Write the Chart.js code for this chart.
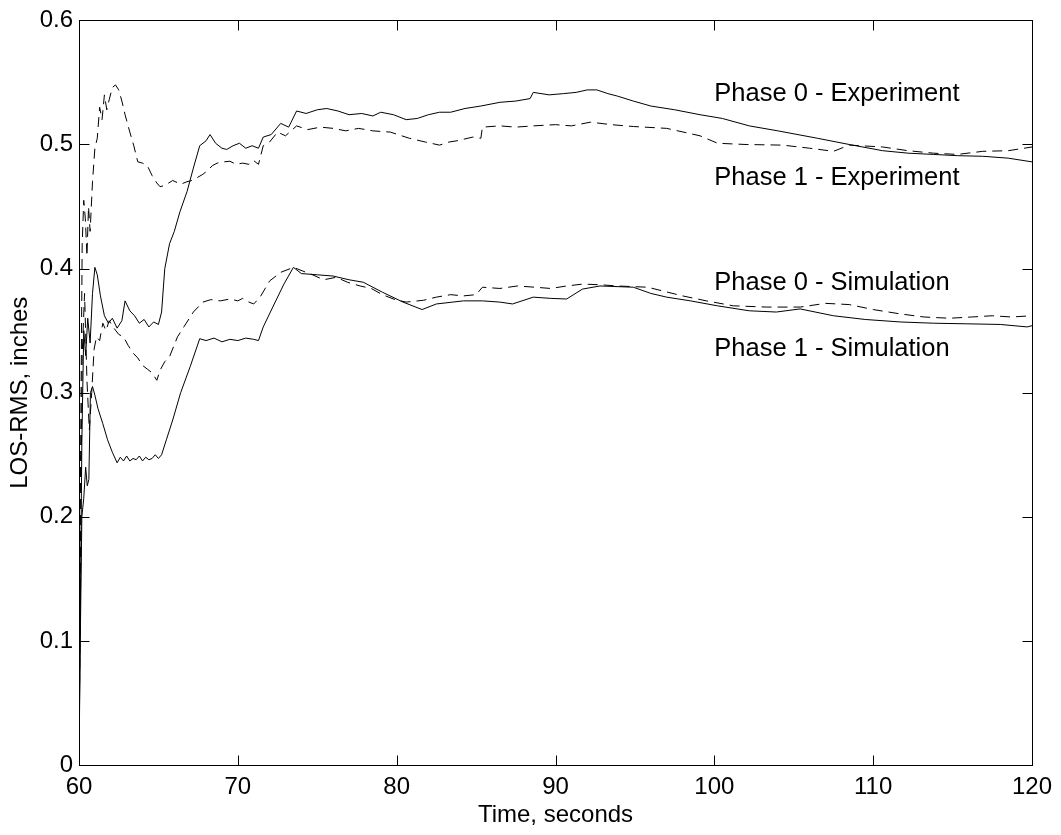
<!DOCTYPE html>
<html>
<head>
<meta charset="utf-8">
<script src="https://cdn.jsdelivr.net/npm/chart.js@4/dist/chart.umd.min.js"></script>
<style>
  html, body { margin: 0; padding: 0; background: #fff; }
  #c { display: block; }
</style>
</head>
<body>
<canvas id="c" width="1061" height="835"></canvas>
<script>
// ---- Data (time in seconds, LOS-RMS in inches) ----
const xTicks = [60, 70, 80, 90, 100, 110, 120];
const yTicks = [0, 0.1, 0.2, 0.3, 0.4, 0.5, 0.6];

// Phase 0 - Experiment (solid)
const phase0Experiment = [
  [60,0],[60.08,0.12],[60.18,0.26],[60.3,0.35],[60.42,0.33],[60.55,0.36],[60.7,0.34],[60.85,0.38],[61.0,0.401],[61.15,0.395],
  [61.35,0.378],[61.6,0.362],[61.85,0.356],[62.1,0.36],[62.4,0.352],[62.7,0.358],[62.9,0.374],[63.2,0.366],[63.5,0.362],[63.8,0.356],
  [64.1,0.359],[64.4,0.353],[64.7,0.357],[65.0,0.355],[65.2,0.365],[65.4,0.40],[65.7,0.42],[66.0,0.43],[66.36,0.446],[66.8,0.462],
  [67.2,0.481],[67.6,0.499],[68.0,0.503],[68.25,0.508],[68.6,0.501],[69.0,0.497],[69.3,0.496],[69.7,0.499],[70.1,0.501],[70.5,0.497],
  [70.9,0.499],[71.3,0.497],[71.6,0.506],[72.1,0.508],[72.7,0.517],[73.2,0.514],[73.7,0.527],[74.3,0.525],[75.0,0.528],[75.6,0.529],
  [76.3,0.527],[77.0,0.524],[77.8,0.525],[78.5,0.523],[79.0,0.526],[79.8,0.524],[80.6,0.520],[81.3,0.521],[82.0,0.524],[82.7,0.526],
  [83.4,0.526],[84.3,0.529],[85.3,0.531],[86.5,0.534],[87.5,0.535],[88.4,0.537],[88.6,0.542],[89.6,0.540],[90.5,0.541],[91.3,0.542],
  [92.0,0.544],[92.6,0.544],[93.3,0.541],[93.9,0.539],[94.9,0.535],[96.0,0.531],[97.5,0.528],[99.1,0.524],[100.5,0.521],[102.2,0.515],
  [104.0,0.511],[106.5,0.505],[108.5,0.500],[110.6,0.495],[112.2,0.493],[113.8,0.492],[115.3,0.491],[116.9,0.4905],[118.5,0.489],[120,0.486]
];

// Phase 1 - Experiment (dashed)
const phase1Experiment = [
  [60,0],[60.1,0.25],[60.2,0.42],[60.3,0.455],[60.4,0.44],[60.5,0.41],[60.6,0.45],[60.7,0.43],[60.85,0.47],[61.0,0.497],
  [61.15,0.505],[61.3,0.53],[61.45,0.52],[61.6,0.54],[61.75,0.528],[61.9,0.536],[62.1,0.546],[62.3,0.548],[62.5,0.544],[62.7,0.535],
  [62.9,0.524],[63.2,0.51],[63.45,0.499],[63.7,0.486],[64.0,0.485],[64.3,0.483],[64.6,0.475],[64.9,0.469],[65.1,0.466],[65.4,0.467],
  [65.9,0.471],[66.4,0.468],[66.8,0.47],[67.1,0.471],[67.4,0.473],[67.8,0.476],[68.1,0.479],[68.4,0.483],[68.7,0.485],[69.1,0.486],
  [69.5,0.4865],[69.9,0.484],[70.3,0.485],[70.7,0.484],[71.0,0.487],[71.3,0.484],[71.6,0.499],[72.0,0.502],[72.5,0.51],[73.0,0.507],
  [73.7,0.515],[74.4,0.512],[75.2,0.514],[76.0,0.513],[76.8,0.511],[77.6,0.513],[78.5,0.511],[79.6,0.51],[80.8,0.505],[81.8,0.502],
  [82.7,0.4995],[83.3,0.502],[83.8,0.503],[84.8,0.506],[85.3,0.505],[85.4,0.514],[86.5,0.515],[87.5,0.514],[88.6,0.515],[90.0,0.516],
  [91.0,0.515],[92.2,0.518],[93.5,0.516],[94.9,0.5145],[97.0,0.513],[99.1,0.507],[100.2,0.501],[102.0,0.5],[104.3,0.4995],[106.0,0.497],
  [107.5,0.4945],[108.5,0.4995],[110.6,0.498],[112.2,0.495],[113.8,0.493],[115.3,0.492],[116.9,0.4945],[118.5,0.495],[120,0.498]
];

// Phase 0 - Simulation (dashed)
const phase0Simulation = [
  [60,0],[60.1,0.18],[60.2,0.33],[60.35,0.38],[60.5,0.31],[60.65,0.27],[60.8,0.3],[60.95,0.335],[61.1,0.345],[61.3,0.342],
  [61.5,0.356],[61.7,0.35],[61.9,0.358],[62.2,0.352],[62.5,0.347],[62.8,0.345],[63.1,0.338],[63.4,0.332],[63.7,0.328],[64.0,0.322],
  [64.3,0.319],[64.6,0.316],[64.9,0.31],[65.1,0.318],[65.4,0.325],[65.7,0.329],[66.2,0.345],[66.6,0.353],[67.2,0.365],[67.8,0.373],
  [68.3,0.375],[68.9,0.374],[69.5,0.3755],[70.0,0.374],[70.3,0.376],[70.7,0.373],[71.0,0.3715],[71.4,0.377],[72.0,0.39],[72.7,0.397],
  [73.5,0.401],[74.1,0.398],[74.7,0.395],[75.4,0.391],[76.2,0.393],[76.9,0.389],[77.7,0.386],[78.4,0.384],[79.1,0.379],[79.9,0.375],
  [80.6,0.373],[81.7,0.3745],[82.5,0.377],[83.4,0.379],[84.2,0.378],[85.0,0.379],[85.4,0.385],[86.5,0.384],[87.6,0.386],[88.7,0.385],
  [89.7,0.384],[90.7,0.386],[91.7,0.3875],[92.8,0.387],[93.9,0.386],[95.8,0.385],[98.0,0.378],[99.5,0.374],[101.2,0.37],[103.3,0.369],
  [105.4,0.369],[107.0,0.372],[108.5,0.371],[110.0,0.367],[111.7,0.3635],[113.2,0.361],[114.8,0.36],[116.2,0.361],[117.5,0.362],[118.7,0.361],
  [120,0.362]
];

// Phase 1 - Simulation (solid)
const phase1Simulation = [
  [60,0],[60.08,0.1],[60.18,0.2],[60.3,0.215],[60.42,0.24],[60.52,0.225],[60.62,0.23],[60.72,0.3],[60.85,0.305],[61.0,0.298],
  [61.2,0.287],[61.5,0.275],[61.8,0.262],[62.1,0.252],[62.4,0.2435],[62.6,0.248],[62.8,0.245],[63.0,0.249],[63.2,0.245],[63.4,0.247],
  [63.6,0.246],[63.8,0.249],[64.0,0.245],[64.2,0.248],[64.4,0.246],[64.6,0.247],[64.8,0.25],[65.0,0.247],[65.2,0.25],[65.5,0.262],
  [65.9,0.278],[66.4,0.3],[67.0,0.321],[67.6,0.3435],[68.0,0.342],[68.5,0.344],[69.0,0.341],[69.5,0.343],[70.0,0.342],[70.5,0.344],
  [71.0,0.343],[71.3,0.342],[71.6,0.353],[72.2,0.369],[72.9,0.3875],[73.5,0.401],[74.0,0.396],[75.0,0.395],[76.0,0.394],[77.0,0.391],
  [77.9,0.389],[79.1,0.381],[80.4,0.373],[81.6,0.367],[82.5,0.3715],[84.2,0.374],[85.4,0.374],[86.5,0.373],[87.3,0.3715],[88.6,0.377],
  [89.7,0.376],[90.7,0.3755],[91.7,0.3835],[92.8,0.386],[94.9,0.385],[96.0,0.38],[97.0,0.377],[98.5,0.374],[100.2,0.37],[102.2,0.366],
  [103.9,0.365],[105.4,0.3675],[107.5,0.362],[109.5,0.359],[111.7,0.357],[113.8,0.356],[115.9,0.3555],[118.0,0.355],[119.7,0.353],[120,0.354]
];

// Curve labels: [text, time where text starts, value at text centre]
const curveLabels = [
  ['Phase 0 - Experiment', 100, 0.5405],
  ['Phase 1 - Experiment', 100, 0.4728],
  ['Phase 0 - Simulation', 100, 0.3885],
  ['Phase 1 - Simulation', 100, 0.3352]
];

const xTitle = 'Time, seconds';
const yTitle = 'LOS-RMS, inches';

// ---- Chart ----
const FONT = '"Liberation Sans", Arial, Helvetica, sans-serif';
const toPts = arr => arr.map(p => ({ x: p[0], y: p[1] }));

const boxPlugin = {
  id: 'matlabBox',
  afterDraw(chart) {
    const { ctx, chartArea: a, scales } = chart;
    const xs = scales.x, ys = scales.y;
    ctx.save();
    ctx.strokeStyle = '#000';
    ctx.lineWidth = 1;
    const L = Math.round(a.left) + 0.5, R = Math.round(a.right) + 0.5;
    const T = Math.round(a.top) + 0.5, B = Math.round(a.bottom) + 0.5;
    ctx.strokeRect(L, T, R - L, B - T);
    const tl = 10;
    ctx.beginPath();
    xTicks.forEach(v => {
      const px = Math.round(xs.getPixelForValue(v)) + 0.5;
      ctx.moveTo(px, B); ctx.lineTo(px, B - tl);
      ctx.moveTo(px, T); ctx.lineTo(px, T + tl);
    });
    yTicks.forEach(v => {
      const py = Math.round(ys.getPixelForValue(v)) + 0.5;
      ctx.moveTo(L, py); ctx.lineTo(L + tl, py);
      ctx.moveTo(R, py); ctx.lineTo(R - tl, py);
    });
    ctx.stroke();

    ctx.fillStyle = '#000';
    ctx.font = '25.5px ' + FONT;
    ctx.textBaseline = 'middle';
    ctx.textAlign = 'left';
    curveLabels.forEach(([txt, t, v]) => {
      ctx.fillText(txt, xs.getPixelForValue(t), ys.getPixelForValue(v));
    });

    // axis titles
    ctx.font = '24px ' + FONT;
    ctx.textAlign = 'center';
    ctx.fillText(xTitle, (a.left + a.right) / 2, 815);
    ctx.translate(20, (a.top + a.bottom) / 2);
    ctx.rotate(-Math.PI / 2);
    ctx.fillText(yTitle, 0, 0);
    ctx.restore();
  }
};

const solid = [];
const dashed = [10, 6];
const mk = (label, data, dash) => ({
  label, data: toPts(data), borderColor: '#000', borderWidth: 1,
  borderDash: dash, pointRadius: 0, fill: false, tension: 0
});

new Chart(document.getElementById('c'), {
  type: 'line',
  data: {
    datasets: [
      mk('Phase 0 - Experiment', phase0Experiment, solid),
      mk('Phase 1 - Experiment', phase1Experiment, dashed),
      mk('Phase 0 - Simulation', phase0Simulation, dashed),
      mk('Phase 1 - Simulation', phase1Simulation, solid)
    ]
  },
  options: {
    responsive: false,
    animation: false,
    devicePixelRatio: 1,
    layout: { padding: { top: 14, right: 29, left: 0, bottom: 0 } },
    plugins: { legend: { display: false }, tooltip: { enabled: false } },
    scales: {
      x: {
        type: 'linear', min: 60, max: 120,
        afterFit(s) { s.height = 70; },
        afterBuildTicks(s) { s.ticks = xTicks.map(v => ({ value: v })); },
        grid: { display: false, drawTicks: false },
        border: { display: false },
        ticks: { color: '#000', font: { family: FONT, size: 24 }, padding: 8, maxRotation: 0,
                 callback: v => String(v) }
      },
      y: {
        type: 'linear', min: 0, max: 0.6,
        afterFit(s) { s.width = 79; },
        afterBuildTicks(s) { s.ticks = yTicks.map(v => ({ value: v })); },
        grid: { display: false, drawTicks: false },
        border: { display: false },
        ticks: { color: '#000', font: { family: FONT, size: 24 }, padding: 6,
                 callback: v => String(Number(v.toFixed(1))) }
      }
    }
  },
  plugins: [boxPlugin]
});
</script>
</body>
</html>
